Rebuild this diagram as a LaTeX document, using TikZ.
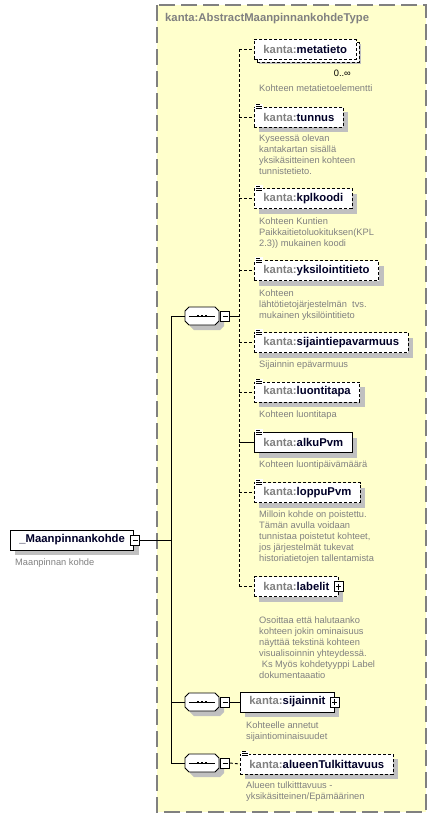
\documentclass[tikz,border=0pt]{standalone}
\usepackage{fontspec}
\setmainfont{Liberation Sans}
\usetikzlibrary{shadows}

\definecolor{typebg}{RGB}{255,255,204}
\definecolor{framegray}{RGB}{128,128,128}
\definecolor{nsgray}{RGB}{128,128,128}
\definecolor{namecol}{RGB}{0,0,40}
\definecolor{descgray}{RGB}{128,128,128}
\definecolor{shadowgray}{RGB}{192,192,192}

\newcommand\kanta[1]{{\color{nsgray}kanta:}#1}
\newcommand\txticon[1]{%
  \fill[white] ([shift={(1,-3)}]#1.north west) rectangle ([shift={(9,3)}]#1.north west);
  \draw[line width=0.7pt] ([shift={(2,-2)}]#1.north west) -- +(4,0)
    ([shift={(2,0)}]#1.north west) -- +(6,0)
    ([shift={(2,2)}]#1.north west) -- +(6,0);}

\tikzset{
  elem/.style={draw, fill=white, line width=0.9pt, anchor=west, minimum height=20pt,
    inner xsep=9pt, inner ysep=0pt, text=namecol, font=\bfseries\fontsize{11.3}{13}\selectfont,
    drop shadow={shadow xshift=5pt, shadow yshift=-5pt, fill=shadowgray, opacity=1}},
  optelem/.style={elem, dash pattern=on 3pt off 2pt},
  desc/.style={anchor=north west, align=left, inner sep=0pt, text=descgray,
    font=\fontsize{9.3}{11.1}\selectfont},
  conn/.style={line width=0.9pt},
  optconn/.style={conn, dash pattern=on 3pt off 2pt},
  seqbox/.style={minimum width=34pt, minimum height=18pt, inner sep=0pt},
  collapse/.style={draw, fill=white, line width=0.8pt, minimum width=9pt, minimum height=10pt,
    inner sep=0pt, path picture={\draw[line width=0.8pt]
      ([xshift=2pt]path picture bounding box.west) -- ([xshift=-2pt]path picture bounding box.east);}},
  expand/.style={collapse, path picture={\draw[line width=0.8pt]
      ([xshift=2pt]path picture bounding box.west) -- ([xshift=-2pt]path picture bounding box.east)
      ([yshift=-2pt]path picture bounding box.north) -- ([yshift=2pt]path picture bounding box.south);}},
}

\begin{document}
\begin{tikzpicture}[x=1pt, y=-1pt]

  \useasboundingbox (0,0) rectangle (436,819);

  \draw[framegray, fill=typebg, line width=1.3pt, dash pattern=on 16pt off 6pt] (157,5) rectangle (426,812);
  \node[anchor=west, inner sep=0pt, text=nsgray, font=\bfseries\fontsize{11.3}{13}\selectfont] (typeTitle) at (165,19) {kanta:AbstractMaanpinnankohdeType};

  \node[elem] (root) at (10,540) {\_Maanpinnankohde\hspace{3pt}};
  \node[collapse] (rootmin) at ([xshift=1pt]root.east) {};
  \node[desc] (rootDesc) at (15,559) {Maanpinnan kohde};

  \node[seqbox] (seqA) at (202,316) {};
  \node[seqbox] (seqB) at (202,702) {};
  \node[seqbox] (seqC) at (202,763) {};
  \foreach \s in {seqA,seqB,seqC}{
    \fill[shadowgray] ([shift={(5,5)}]\s.center) ++(-13,-9) -- ++(26,0) -- ++(4,4) -- ++(0,10)
      -- ++(-4,4) -- ++(-26,0) -- ++(-4,-4) -- ++(0,-10) -- cycle;
    \filldraw[fill=white, line width=0.9pt] (\s.center) ++(-13,-9) -- ++(26,0) -- ++(4,4) -- ++(0,10)
      -- ++(-4,4) -- ++(-26,0) -- ++(-4,-4) -- ++(0,-10) -- cycle;
    \draw[line width=0.9pt] ([xshift=4pt]\s.west) -- ([xshift=-4pt]\s.east);
    \foreach \dx in {-4,0,4}
      \fill ([shift={(\dx-1.4,-1.4)}]\s.center) rectangle +(2.8,2.8);
  }
  \node[collapse, anchor=west] (seqAmin) at ([xshift=1pt]seqA.east) {};
  \node[collapse, anchor=west] (seqBmin) at ([xshift=1pt]seqB.east) {};
  \node[collapse, anchor=west] (seqCmin) at ([xshift=1pt]seqC.east) {};

  \node[optelem, copy shadow={shadow xshift=3pt, shadow yshift=-3pt, draw=black, fill=white,
    line width=0.9pt, dash pattern=on 3pt off 2pt}] (meta) at (254,49) {\kanta{metatieto}};
  \node[anchor=east, inner sep=0pt, font=\fontsize{9.3}{11}\selectfont] (metaCard) at (351,73) {0..∞};
  \node[desc] (metaDesc) at (259,84.5) {Kohteen metatietoelementti};

  \node[optelem] (tunnus) at (254,117) {\kanta{tunnus}};
  \node[desc] (tunnusDesc) at (259,134.5) {Kyseessä olevan\\kantakartan sisällä\\yksikäsitteinen kohteen\\tunnistetieto.};

  \node[optelem] (kpl) at (254,198.5) {\kanta{kplkoodi}};
  \node[desc] (kplDesc) at (259,217.5) {Kohteen Kuntien\\Paikkaitietoluokituksen(KPL\\2.3)) mukainen koodi};

  \node[optelem] (yks) at (254,270.5) {\kanta{yksilointitieto}};
  \node[desc] (yksDesc) at (259,289.5) {Kohteen\\lähtötietojärjestelmän\ \ tvs.\\mukainen yksilöintitieto};

  \node[optelem] (sijep) at (254,342.5) {\kanta{sijaintiepavarmuus}};
  \node[desc] (sijepDesc) at (259,360.5) {Sijainnin epävarmuus};

  \node[optelem] (luonti) at (254,392) {\kanta{luontitapa}};
  \node[desc] (luontiDesc) at (259,410.5) {Kohteen luontitapa};

  \node[elem] (alku) at (254,442.5) {\kanta{alkuPvm}};
  \node[desc] (alkuDesc) at (259,460.5) {Kohteen luontipäivämäärä};

  \node[optelem] (loppu) at (254,492.5) {\kanta{loppuPvm}};
  \node[desc] (loppuDesc) at (259,510.5) {Milloin kohde on poistettu.\\Tämän avulla voidaan\\tunnistaa poistetut kohteet,\\jos järjestelmät tukevat\\historiatietojen tallentamista};

  \node[optelem] (labelit) at (254,586.5) {\kanta{labelit}\hspace{3pt}};
  \node[expand] (labelitPlus) at (labelit.east) {};
  \node[desc] (labelitDesc) at (259,616.5) {Osoittaa että halutaanko\\kohteen jokin ominaisuus\\näyttää tekstinä kohteen\\visualisoinnin yhteydessä.\\\hspace*{2.6pt}Ks Myös kohdetyyppi Label\\dokumentaaatio};

  \node[elem] (sijainnit) at (240,702) {\kanta{sijainnit}\hspace{4pt}};
  \node[expand] (sijainnitPlus) at (sijainnit.east) {};
  \node[desc] (sijainnitDesc) at (246,721.5) {Kohteelle annetut\\sijaintiominaisuudet};

  \node[optelem] (alue) at (240,764) {\kanta{alueenTulkittavuus}};
  \node[desc] (alueDesc) at (246,781.5) {Alueen tulkitttavuus -\\yksikäsitteinen/Epämäärinen};

  \foreach \e in {tunnus,kpl,yks,sijep,luonti,alku,loppu,alue}{
    \txticon{\e}
  }

  \coordinate (rail) at (171,0);
  \coordinate (spine) at (239,0);
  \draw[conn] (rootmin.east) -- (rootmin.east -| rail);
  \draw[conn] (seqA.west -| rail) -- (seqC.west -| rail);
  \foreach \s in {seqA,seqB,seqC}
    \draw[conn] (\s.west -| rail) -- (\s.west);
  \draw[conn] (seqAmin.east) -- (seqAmin.east -| spine);
  \draw[optconn] (meta.west -| spine) -- (labelit.west -| spine);
  \foreach \e in {meta,tunnus,kpl,yks,sijep,luonti,loppu,labelit}
    \draw[optconn] (\e.west -| spine) -- (\e.west);
  \draw[conn] (alku.west -| spine) -- (alku.west);
  \draw[conn] (seqBmin.east) -- (sijainnit.west);
  \draw[optconn] (seqCmin.east) -- (alue.west);

\end{tikzpicture}
\end{document}
